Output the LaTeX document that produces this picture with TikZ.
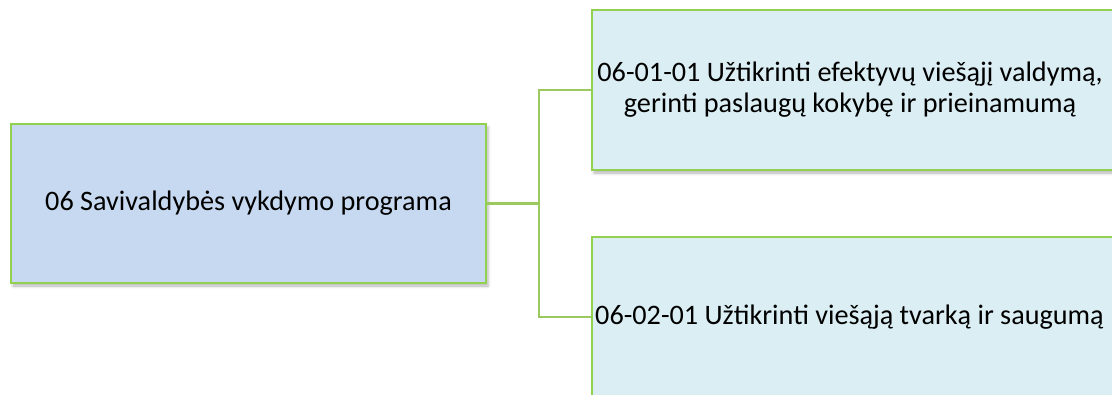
\documentclass[tikz,border=0pt]{standalone}
\usepackage{fontspec}
\setmainfont{Carlito}
\usetikzlibrary{shadows.blur}
\definecolor{boxgreen}{RGB}{146,208,80}
\definecolor{linegreen}{RGB}{155,200,95}
\definecolor{fillA}{RGB}{198,217,240}
\definecolor{fillB}{RGB}{218,238,243}
\tikzset{
  boxshape/.style={draw=boxgreen, line width=2.8pt, inner sep=0pt,
    blur shadow={shadow xshift=2pt, shadow yshift=-3pt, shadow blur radius=3pt, shadow opacity=30}},
  conn/.style={draw=linegreen, line width=2.4pt},
  lbl/.style={font=\fontsize{28.2}{31}\selectfont, align=center, inner sep=0pt}
}
\begin{document}
\begin{tikzpicture}[x=1pt,y=-1pt]
\useasboundingbox (0,0) rectangle (1112,394);
\clip (0,0) rectangle (1112,394);
\node[boxshape, fill=fillA, minimum width=475pt, minimum height=159pt] (root) at (248.5,203.5) {};
\node[lbl] (roott) at (248.5,203.5) {06 Savivaldybės vykdymo programa};
\node[boxshape, fill=fillB, minimum width=570pt, minimum height=160pt] (c1) at (877,90) {};
\node[lbl] (c1t) at (850,90) {06-01-01 Užtikrinti efektyvų viešąjį valdymą,\\gerinti paslaugų kokybę ir prieinamumą};
\node[boxshape, fill=fillB, minimum width=570pt, minimum height=160pt] (c2) at (877,317) {};
\node[lbl, anchor=west] (c2t) at (595,317) {06-02-01 Užtikrinti viešąją tvarką ir saugumą};
\coordinate (j) at (539,203.5);
\draw[conn] (root.east) -- (j);
\draw[conn] (j) |- (c1.west);
\draw[conn] (j) |- (c2.west);
\end{tikzpicture}
\end{document}
